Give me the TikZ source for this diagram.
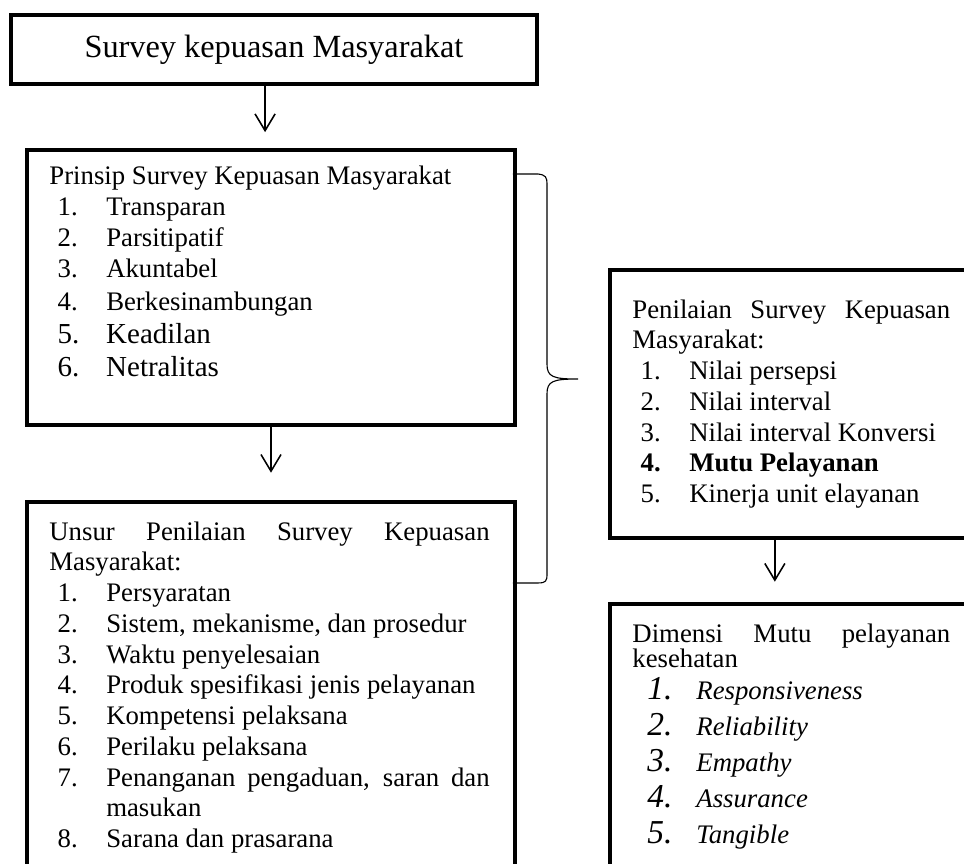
\documentclass[tikz,border=0pt]{standalone}
\usepackage{fontspec}
\setmainfont{Liberation Serif}
\usetikzlibrary{arrows.meta,positioning,calc}
\tikzset{
  kotak/.style={draw,line width=1.8pt,inner sep=0pt,anchor=north west},
  isi/.style={anchor=base west,inner sep=0pt,text width=#1,align=justify,font=\fontsize{12}{13.8}\selectfont},
  panah/.style={-{Straight Barb[length=7.5pt,width=9pt]},line width=0.7pt},
  kurung/.style={line width=0.5pt},
}
\newcommand{\butir}[2]{\par\noindent\hangindent=25.5pt\hspace*{3.7pt}\makebox[21.8pt][l]{#1}#2}
\newcommand{\butirmiring}[2]{\par\noindent\hspace*{6.7pt}\makebox[22pt][l]{\fontsize{15}{16.1}\selectfont\itshape #1}\textit{#2}}
\hyphenpenalty=10000
\exhyphenpenalty=10000

\begin{document}
\begin{tikzpicture}
  \useasboundingbox (0,0) rectangle (15.197,-13.62);
  \clip (0,0) rectangle (15.197,-13.62);
  \node[kotak,minimum width=8.29cm,minimum height=1.088cm,font=\fontsize{14.5}{16}\selectfont] (judul) at (0.142,-0.205) {Survey kepuasan Masyarakat};
  \node[kotak,minimum width=7.693cm,minimum height=4.335cm] (prinsip) at (0.394,-2.333) {};
  \node[kotak,minimum width=7.693cm,minimum height=6.3cm] (unsur) at (0.394,-7.882) {};
  \node[kotak,minimum width=6.62cm,minimum height=4.225cm] (penilaian) at (9.585,-4.225) {};
  \node[kotak,minimum width=6.62cm,minimum height=6cm] (dimensi) at (9.585,-9.49) {};

  \node[isi=6.94cm] (tprinsip) at (0.772,-2.916) {Prinsip Survey Kepuasan Masyarakat
    \butir{1.}{Transparan}
    \butir{2.}{Parsitipatif}
    \butir{3.}{Akuntabel}
    \butir{4.}{Berkesinambungan}
    {\fontsize{13}{14.8}\selectfont\butir{5.}{Keadilan}
    \butir{6.}{Netralitas}\par}};
  \node[isi=6.94cm] (tunsur) at (0.772,-8.513) {Unsur Penilaian Survey Kepuasan Masyarakat:
    \butir{1.}{Persyaratan}
    \butir{2.}{Sistem, mekanisme, dan prosedur}
    \butir{3.}{Waktu penyelesaian}
    \butir{4.}{Produk spesifikasi jenis pelayanan}
    \butir{5.}{Kompetensi pelaksana}
    \butir{6.}{Perilaku pelaksana}
    \butir{7.}{Penanganan pengaduan, saran dan masukan}
    \butir{8.}{Sarana dan prasarana}};
  \node[isi=5.01cm] (tpenilaian) at (9.963,-5.013) {Penilaian Survey Kepuasan Masyarakat:
    \butir{1.}{Nilai persepsi}
    \butir{2.}{Nilai interval}
    \butir{3.}{Nilai interval Konversi}
    {\bfseries\butir{4.}{Mutu Pelayanan}\par}
    \butir{5.}{Kinerja unit elayanan}};
  \node[isi=5.01cm,font=\fontsize{12}{16.1}\selectfont] (tdimensi) at (9.963,-10.136) {{\baselineskip=11.2pt Dimensi Mutu pelayanan kesehatan\par}
    {\baselineskip=14.3pt\butirmiring{1.}{Responsiveness}\par}
    \butirmiring{2.}{Reliability}
    \butirmiring{3.}{Empathy}
    \butirmiring{4.}{Assurance}
    \butirmiring{5.}{Tangible}};

  \draw[panah,shorten >=0.25cm] ([xshift=-0.14cm]judul.south) -- ([xshift=-0.14cm]judul.south |- prinsip.north);
  \draw[panah,shorten >=0.43cm] (prinsip.south) -- (unsur.north);
  \draw[panah,shorten >=0.32cm] ([xshift=2.63cm]penilaian.south west) -- ([xshift=2.63cm]dimensi.north west);

  \draw[kurung] (8.087,-2.743) -- (8.481,-2.743) .. controls (8.607,-2.759) and (8.623,-2.79) .. (8.623,-2.916)
    -- (8.623,-5.738) .. controls (8.623,-5.943) and (8.718,-5.975) .. (9.112,-5.975)
    .. controls (8.718,-5.975) and (8.623,-6.006) .. (8.623,-6.211)
    -- (8.623,-9.049) .. controls (8.623,-9.159) and (8.607,-9.19) .. (8.481,-9.19) -- (8.087,-9.19);
\end{tikzpicture}
\end{document}
